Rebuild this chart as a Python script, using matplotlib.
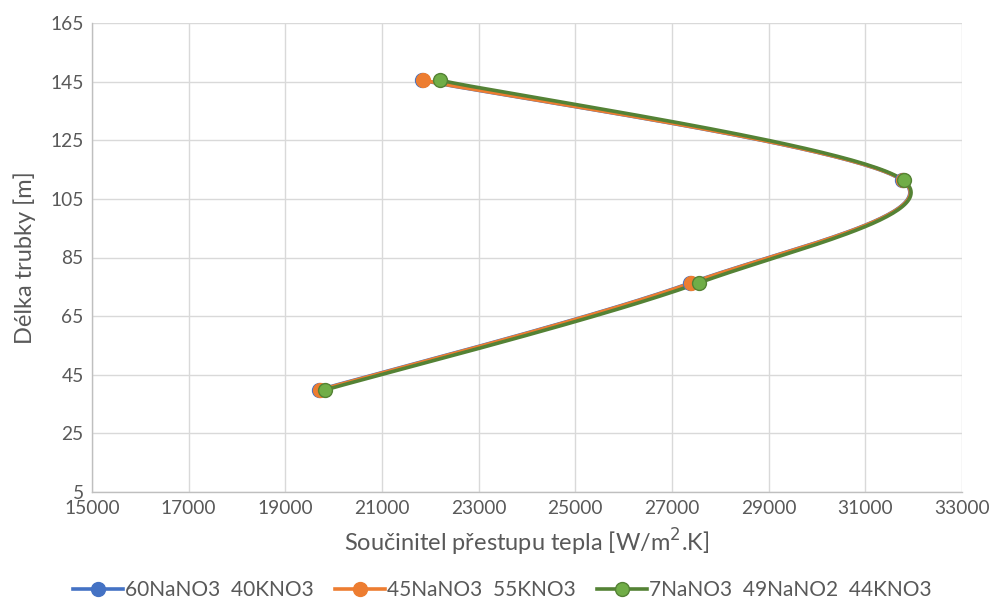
import numpy as np
import matplotlib
matplotlib.use("Agg")
import matplotlib.pyplot as plt
from matplotlib.lines import Line2D

plt.rcParams['font.family'] = ['Lato', 'DejaVu Sans']

# Heat transfer coefficient [W/m2.K] vs. tube length [m]
series_names = ["60NaNO3  40KNO3", "45NaNO3  55KNO3", "7NaNO3  49NaNO2  44KNO3"]
x_blue = [19690, 27380, 31760, 21820]
y_blue = [39.8, 76.3, 111.3, 145.5]
x_orange = [19720, 27400, 31770, 21850]
y_orange = [39.8, 76.3, 111.3, 145.5]
x_green = [19820, 27550, 31790, 22190]
y_green = [39.8, 76.3, 111.3, 145.5]

x_ticks = list(range(15000, 33001, 2000))
y_ticks = list(range(5, 166, 20))


def smooth(xs, ys, n=60):
    """Cardinal-spline smoothing through the points (spreadsheet style)."""
    p = np.column_stack([xs, ys]).astype(float)
    # normalise to make the spline shape scale independent
    sx = 18000.0
    sy = 160.0 * 870 / 469
    q = p / np.array([sx, sy])
    out = []
    m = len(q)
    for i in range(m - 1):
        p0 = q[i - 1] if i > 0 else q[i]
        p1 = q[i]
        p2 = q[i + 1]
        p3 = q[i + 2] if i + 2 < m else q[i + 1]
        c1 = p1 + (p2 - p0) / 6.0
        c2 = p2 - (p3 - p1) / 6.0
        t = np.linspace(0, 1, n)[:, None]
        seg = ((1 - t) ** 3) * p1 + 3 * ((1 - t) ** 2) * t * c1 + 3 * (1 - t) * t ** 2 * c2 + t ** 3 * p2
        out.append(seg if i == 0 else seg[1:])
    r = np.vstack(out) * np.array([sx, sy])
    return r[:, 0], r[:, 1]


fig = plt.figure(figsize=(9.95, 6.04), dpi=100)
ax = fig.add_axes([92 / 995, 1 - 492 / 604, 870 / 995, 469 / 604])

styles = [
    (x_blue, y_blue, "#4472C4", "#4472C4", "#4472C4"),
    (x_orange, y_orange, "#ED7D31", "#ED7D31", "#ED7D31"),
    (x_green, y_green, "#548235", "#70AD47", "#548235"),
]
handles = []
for (xs, ys, lc, mf, me), name in zip(styles, series_names):
    sxv, syv = smooth(xs, ys)
    ax.plot(sxv, syv, color=lc, lw=2.6, solid_capstyle='round', zorder=3)
    ax.plot(xs, ys, ls='none', marker='o', ms=10, mfc=mf, mec=me, mew=1.0, zorder=4)
    handles.append(Line2D([0], [0], color=lc, lw=2.6, marker='o', ms=10, mfc=mf, mec=me, mew=1.0))

ax.set_xlim(15000, 33000)
ax.set_ylim(5, 165)
ax.set_xticks(x_ticks)
ax.set_yticks(y_ticks)
ax.grid(True, color="#D9D9D9", lw=1.0)
ax.set_axisbelow(True)
for s in ['top', 'right']:
    ax.spines[s].set_visible(False)
for s in ['left', 'bottom']:
    ax.spines[s].set_color("#BFBFBF")
    ax.spines[s].set_linewidth(1.0)
ax.tick_params(length=0, labelsize=13.8, colors="#595959", pad=6)

ax.set_xlabel("Součinitel přestupu tepla [W/m$^2$.K]", fontsize=17, color="#595959", labelpad=7)
ax.set_ylabel("Délka trubky [m]", fontsize=17, color="#595959", labelpad=10)

leg = fig.legend(handles, series_names, loc='lower center', bbox_to_anchor=(0.505, -0.025),
                 ncol=3, frameon=False, fontsize=15, handlelength=2.4, columnspacing=1.0,
                 handletextpad=0.12)
for t in leg.get_texts():
    t.set_color("#595959")

fig.savefig("out.png", dpi=100, facecolor="white")
